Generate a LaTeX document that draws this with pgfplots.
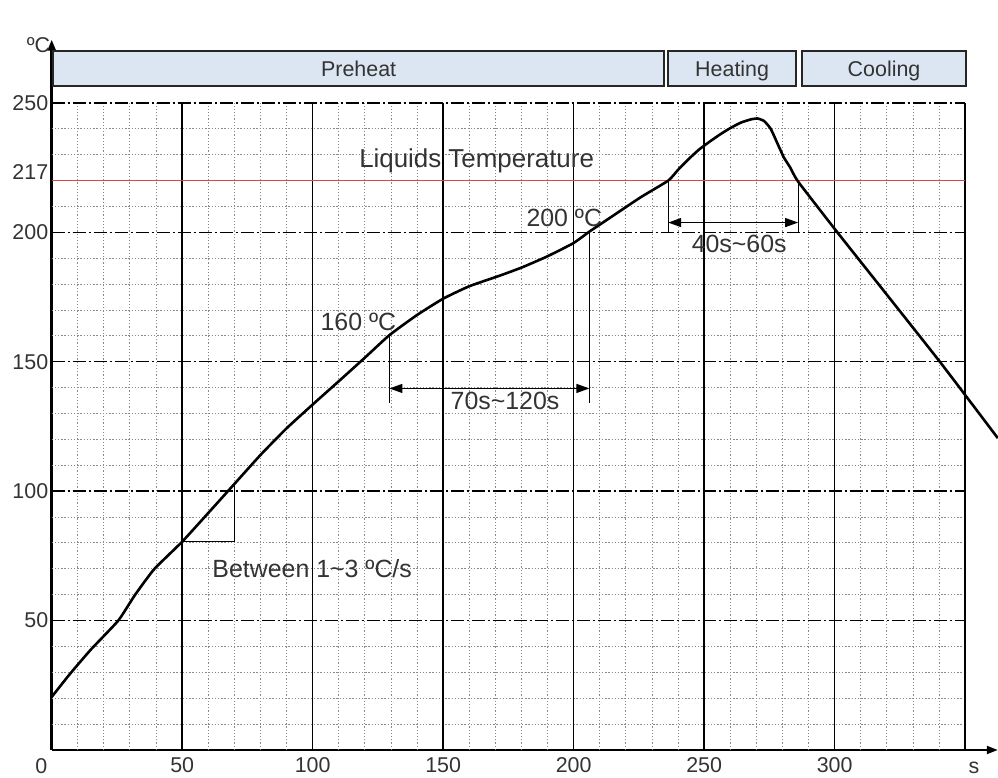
\documentclass[border=0pt]{standalone}
\usepackage{pgfplots}
\pgfplotsset{compat=1.18}
\usepackage{fontspec}
\setmainfont{Liberation Sans}
\usetikzlibrary{arrows.meta}
\definecolor{boxfill}{HTML}{DCE6F2}
\definecolor{txt}{HTML}{333333}
\definecolor{liq}{HTML}{D84545}
\definecolor{minorc}{HTML}{8A8A8A}
\tikzset{
  gmin/.style={draw=minorc, line width=1bp, dash pattern=on 1.3bp off 1.9bp},
  gmaj/.style={draw=black, line width=1.5bp},
  gmajdash/.style={draw=black, line width=1.4bp, dash pattern=on 13bp off 3bp on 2bp off 3bp},
  ann/.style={draw=black, line width=1.2bp},
  annarrow/.style={draw=black, line width=1.3bp, {Triangle[length=13bp,width=9bp]}-{Triangle[length=13bp,width=9bp]}},
  boxst/.style={draw=black!85, line width=1.8bp, fill=boxfill},
  lab/.style={font=\fontsize{25}{29}\selectfont, text=txt, anchor=base, inner sep=0pt},
  blab/.style={font=\fontsize{21.5}{25}\selectfont, text=txt, anchor=base, inner sep=0pt},
}
\begin{document}
\begin{tikzpicture}
\useasboundingbox (-51.7bp,-28bp) rectangle (946.3bp,750bp);
\begin{axis}[
  anchor=origin, at={(0,0)},
  x=2.61bp, y=2.588bp,
  xmin=0, xmax=362.5, ymin=0, ymax=274.5,
  axis lines=left,
  axis line style={line width=2bp, -{Triangle[length=11bp,width=8bp]}},
  y axis line style={line width=2.6bp},
  xtick={50,100,...,300}, ytick={50,100,...,250},
  extra y ticks={220}, extra y tick labels={217},
  extra tick style={yticklabel style={yshift=9bp}},
  xticklabel style={yshift=-4bp},
  major tick length=0pt,
  tick style={draw=none},
  tick label style={font=\fontsize{21.5}{25}\selectfont, text=txt},
  /pgf/number format/assume math mode=true,
  clip=false,
]
% minor grid
\pgfplotsinvokeforeach{10,20,30,40,60,70,80,90,110,120,130,140,160,170,180,190,210,220,230,240,260,270,280,290,310,320,330,340}{
  \draw[gmin] (axis cs:#1,0) -- (axis cs:#1,250);
}
\pgfplotsinvokeforeach{10,20,30,40,60,70,80,90,110,120,130,140,160,170,180,190,210,230,240}{
  \draw[gmin] (axis cs:0,#1) -- (axis cs:350,#1);
}
% major grid
\pgfplotsinvokeforeach{50,100,150,200,250}{
  \draw[gmajdash] (axis cs:0,#1) -- (axis cs:350,#1);
}
\pgfplotsinvokeforeach{50,100,150,200,250,300,350}{
  \draw[gmaj] (axis cs:#1,0) -- (axis cs:#1,250);
}
% liquidus line
\draw[liq, line width=1.3bp] (axis cs:0,220) -- (axis cs:350,220);

% reflow profile
\addplot[line width=2.6bp, black, smooth, tension=0.3] coordinates {
(0,20.5) (7,29.4) (15,38.8) (25.5,50) (31.9,59.9) (39.2,69.8) (50,80.5)
(60,91.6) (70,102.8) (80,114) (90,124.3) (100,133.5) (110,142.5)
(120,151.6) (129.4,160.3) (140,168.1) (150,174.4) (160,179.2)
(171.7,183.3) (180,186.4) (189.6,190.6) (199.8,195.8) (206,200.3)
(210,203.0) (225.4,213.4) (236.2,220) (240,224.2) (244,228.3)
(248,232) (252,235) (256,237.8) (260,240.3) (264,242.4) (268,243.7)
(270.5,244) (273,243) (275.5,240) (278,234.5) (280.5,229) (283,225)
(286,219.6) (300.8,200.3) (317.4,179.2) (340.3,150)
(362.5,120.5)
};

% slope triangle
\draw[ann] (axis cs:50,80.5) -- (axis cs:70,80.5) -- (axis cs:70,102.8);
\node[lab] at (axis cs:99.8,66.7) {Between 1\textasciitilde 3 ºC/s};

% 70s~120s
\draw[ann] (axis cs:129.4,160.3) -- (axis cs:129.4,134);
\draw[ann] (axis cs:206,200.3) -- (axis cs:206,134);
\draw[annarrow] (axis cs:129.4,139.7) -- (axis cs:206,139.7);
\node[lab] at (axis cs:173.7,131.4) {70s\textasciitilde 120s};
\node[lab] at (axis cs:117.5,162) {160 ºC};
\node[lab] at (axis cs:196.4,202.2) {200 ºC};

% 40s~60s
\draw[ann] (axis cs:236.2,220) -- (axis cs:236.2,200);
\draw[ann] (axis cs:286,219.6) -- (axis cs:286,200);
\draw[annarrow] (axis cs:236.2,203.8) -- (axis cs:286,203.8);
\node[lab] at (axis cs:263.4,192.2) {40s\textasciitilde 60s};

\node[lab, font=\fontsize{26}{30}\selectfont] at (axis cs:162.8,224.9) {Liquids Temperature};

% phase boxes
\draw[boxst] (axis cs:0.6,256.6) rectangle (axis cs:234.6,270.2);
\draw[boxst] (axis cs:236.2,256.6) rectangle (axis cs:285.2,270.2);
\draw[boxst] (axis cs:287.6,256.6) rectangle (axis cs:350.2,270.2);
\node[blab] at (axis cs:117.6,260.3) {Preheat};
\node[blab] at (axis cs:260.7,260.3) {Heating};
\node[blab] at (axis cs:318.9,260.3) {Cooling};

% axis unit labels
\node[blab, anchor=base east] at (axis cs:-0.5,269.7) {ºC};
\node[blab] at (axis cs:353.4,-9) {s};
\node[blab] at (axis cs:-4,-9) {0};
\end{axis}
\end{tikzpicture}
\end{document}
